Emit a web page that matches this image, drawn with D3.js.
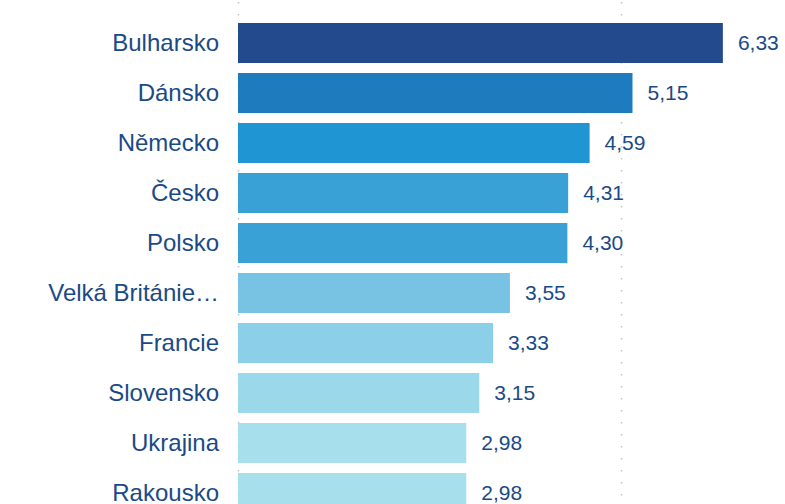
<!DOCTYPE html>
<html>
<head>
<meta charset="utf-8">
<script src="https://cdn.jsdelivr.net/npm/d3@7"></script>
<style>
  body { margin: 0; background: #fff; }
  svg { display: block; font-family: "Liberation Sans", Arial, sans-serif; }
</style>
</head>
<body>
<div id="chart"></div>
<script>
// data
var countries = ["Bulharsko", "Dánsko", "Německo", "Česko", "Polsko",
  "Velká Británie…", "Francie", "Slovensko", "Ukrajina", "Rakousko"];
var values = [6.33, 5.15, 4.59, 4.31, 4.30, 3.55, 3.33, 3.15, 2.98, 2.98];
var gridTicks = [0, 5];

// bar colours, top to bottom
var palette = ["#244a8e", "#1e7bbe", "#2095d3", "#3aa1d7", "#3aa1d7",
  "#78c3e3", "#8ccfe8", "#9bd8ea", "#a8dfec", "#a8dfec"];

var w = 785, h = 504;

var svg = d3.select("#chart").append("svg")
  .attr("width", w)
  .attr("height", h);

var x = d3.scaleLinear().domain([0, 5]).range([238, 621]);

var y = d3.scaleBand()
  .domain(countries)
  .range([18, 518])
  .paddingInner(0.2)
  .paddingOuter(0.1);

// dotted gridlines
svg.append("g")
  .selectAll("line")
  .data(gridTicks)
  .enter()
  .append("line")
  .attr("x1", function(d) { return Math.round(x(d)) + 0.5; })
  .attr("x2", function(d) { return Math.round(x(d)) + 0.5; })
  .attr("y1", 2)
  .attr("y2", h)
  .attr("stroke", "#c4c4c4")
  .attr("stroke-width", 1.5)
  .attr("stroke-dasharray", "1.5,10.5");

// bars
svg.append("g")
  .selectAll("rect")
  .data(values)
  .enter()
  .append("rect")
  .attr("x", x(0))
  .attr("y", function(d, i) { return y(countries[i]); })
  .attr("width", function(d) { return x(d) - x(0); })
  .attr("height", y.bandwidth())
  .attr("fill", function(d, i) { return palette[i]; });

// category labels
svg.append("g")
  .selectAll("text")
  .data(countries)
  .enter()
  .append("text")
  .text(function(d) { return d; })
  .attr("x", 219)
  .attr("y", function(d) { return y(d) + y.bandwidth() / 2; })
  .attr("dy", "0.35em")
  .attr("text-anchor", "end")
  .attr("font-size", "24px")
  .attr("fill", "#1a4a86");

// value labels
var fmt = function(v) { return d3.format(".2f")(v).replace(".", ","); };

svg.append("g")
  .selectAll("text")
  .data(values)
  .enter()
  .append("text")
  .text(function(d) { return fmt(d); })
  .attr("x", function(d) { return x(d) + 15; })
  .attr("y", function(d, i) { return y(countries[i]) + y.bandwidth() / 2; })
  .attr("dy", "0.35em")
  .attr("font-size", "21px")
  .attr("fill", "#1a4a86");
</script>
</body>
</html>
